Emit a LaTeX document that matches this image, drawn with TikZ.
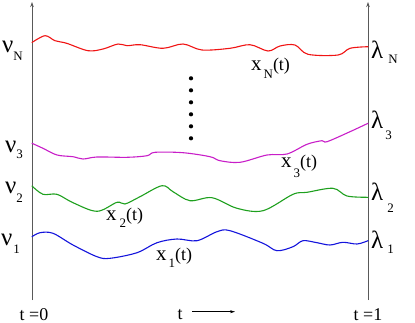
\documentclass[tikz,border=0pt]{standalone}
\usepackage{fontspec}
\setmainfont{Liberation Serif}
\usetikzlibrary{arrows.meta}

\newcommand{\greeksz}{\fontsize{25}{25}\selectfont}
\newcommand{\bigsz}{\fontsize{21}{21}\selectfont}
\newcommand{\midsz}{\fontsize{18}{18}\selectfont}
\newcommand{\subsz}{\fontsize{13}{13}\selectfont}
% greek boundary label: symbol, index, gap, drop
\newcommand{\bndlbl}[4]{{\greeksz #1}\hspace{#3}\raisebox{-#4}{\subsz #2}}
% path label: index, drop, gap
\newcommand{\pathlbl}[3]{{\bigsz x}\hspace{#3}\raisebox{-#2}{\subsz #1}{\midsz (t)}}

\definecolor{path_red}{RGB}{240,20,20}
\definecolor{path_magenta}{RGB}{200,30,200}
\definecolor{path_green}{RGB}{30,160,30}
\definecolor{path_blue}{RGB}{20,20,220}

\begin{document}
\begin{tikzpicture}[x=1bp, y=-1bp]
	\tikzstyle{axis_line} = [draw=black!65, line width=0.8bp, -{Stealth[length=5bp,width=3.5bp]}]
	\tikzstyle{time_arrow} = [draw=black, line width=0.6bp, -{Stealth[length=5bp,width=3bp]}]
	\tikzstyle{path_line} = [line width=1.1bp, line join=round, line cap=round]
	\tikzstyle{bnd_label} = [anchor=base west, inner sep=0pt]
	\tikzstyle{dot} = [circle, fill=black, inner sep=0pt, minimum size=4.2bp]

	\useasboundingbox (0,0) rectangle (415,323);

%------------------------------------------------------------
	\coordinate (l_bot) at (32,300);
	\coordinate (l_top) at (32,2);
	\coordinate (r_bot) at (368,300);
	\coordinate (r_top) at (368,2);

	\draw[axis_line] (l_bot) -- (l_top);
	\draw[axis_line] (r_bot) -- (r_top);

%------------------------------------------------------------

	\draw[path_line, path_red] plot[smooth, tension=0.55] coordinates {
		(32,42.5) (45,35.7) (55,40.7) (66.7,43.3) (88,50.7) (103,49) (118,44)
		(127,45.7) (140,44.7) (163,48.3) (183,44) (202,50) (230,48.3) (250,44.7)
		(268,51) (280,46) (295,45) (308,54.3) (338,55) (350,48.3) (368,46.7)};

	\draw[path_line, path_magenta] plot[smooth, tension=0.55] coordinates {
		(32,143.3) (43,148.3) (57,155) (73,156.7) (83,159) (97,157) (127,157.3)
		(147,155.7) (155,152.3) (183,152.7) (210,156.7) (220,160.7) (240,162.3)
		(267,155) (287,154) (307,144.3) (322,140.7) (327,141.7) (350,131.7) (368,123.3)};

	\draw[path_line, path_green] plot[smooth, tension=0.55] coordinates {
		(32,186) (43,194.3) (57,194.3) (73,202.7) (97,211.3) (117,202.3) (125,204)
		(140,196.7) (162,185.7) (173,191.7) (190,200.7) (212,197.7) (237,208.3)
		(263,210.7) (293,194.3) (307,192.3) (333,188.3) (347,196) (368,197.3)};

	\draw[path_line, path_blue] plot[smooth, tension=0.55] coordinates {
		(32,236.7) (40,232.7) (53,233.3) (73,245) (97,256.7) (110,258.3) (137,252.7)
		(157,242.7) (177,239) (197,240.7) (217,231.7) (230,230.7) (263,243.3)
		(277,250.7) (293,246.7) (303,240.7) (317,242.7) (330,245) (343,242.3)
		(357,244) (368,240.7)};

%------------------------------------------------------------

	\node[bnd_label] (nuN) at (2,52) {\bndlbl{ν}{N}{0bp}{8bp}};
	\node[bnd_label] (nu3) at (5,152) {\bndlbl{ν}{3}{0bp}{6bp}};
	\node[bnd_label] (nu2) at (5,193) {\bndlbl{ν}{2}{0bp}{9bp}};
	\node[bnd_label] (nu1) at (1,245) {\bndlbl{ν}{1}{1bp}{8bp}};

	\node[bnd_label] (lamN) at (371,58) {\bndlbl{λ}{N}{5bp}{5bp}};
	\node[bnd_label] (lam3) at (371,128) {\bndlbl{λ}{3}{2bp}{11bp}};
	\node[bnd_label] (lam2) at (371,200) {\bndlbl{λ}{2}{4bp}{12bp}};
	\node[bnd_label] (lam1) at (371,248) {\bndlbl{λ}{1}{4bp}{5bp}};

%------------------------------------------------------------

	\node[bnd_label] (xN) at (251,70) {\pathlbl{N}{8bp}{2bp}};
	\node[bnd_label] (x3) at (281,167) {\pathlbl{3}{10bp}{2bp}};
	\node[bnd_label] (x2) at (106,220) {\pathlbl{2}{7bp}{3bp}};
	\node[bnd_label] (x1) at (156,260) {\pathlbl{1}{7bp}{2bp}};

	\foreach \k in {0,...,5}
		\node[dot] (dot\k) at (191,78.3+12*\k) {};

%------------------------------------------------------------

	\node[anchor=base, inner sep=0pt] (t_start) at (34,320) {\midsz t =0};
	\node[anchor=base, inner sep=0pt] (t_end) at (368,320) {\midsz t =1};
	\node[anchor=base, inner sep=0pt] (t_lbl) at (180,319) {\midsz t};

	\coordinate (t_arrow_a) at (192,311.7);
	\coordinate (t_arrow_b) at (235,311.7);
	\draw[time_arrow] (t_arrow_a) -- (t_arrow_b);

\end{tikzpicture}
\end{document}
